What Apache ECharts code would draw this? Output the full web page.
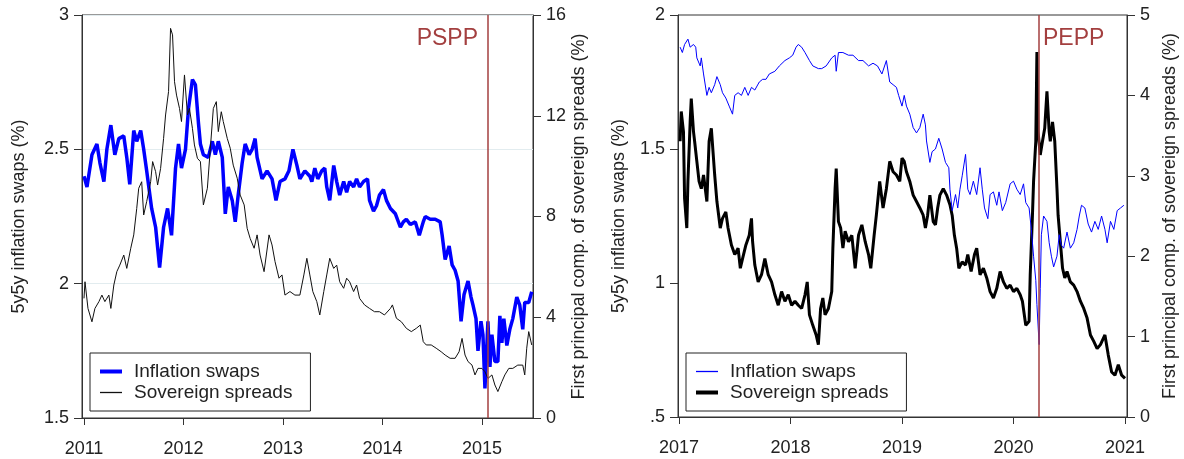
<!DOCTYPE html>
<html>
<head>
<meta charset="utf-8">
<title>Inflation swaps and sovereign spreads</title>
<script src="https://cdn.jsdelivr.net/npm/echarts@6/dist/echarts.min.js"></script>
<style>
  html, body { margin: 0; padding: 0; background: #fff; }
  #chart { width: 1184px; height: 459px; }
</style>
</head>
<body>
<div id="chart"></div>
<script>
// ---- data (decimal years) ----
// left panel: 2011 - mid 2015
var swapDates1 = [2011.00,2011.03,2011.08,2011.13,2011.16,2011.20,2011.23,2011.27,2011.31,2011.35,2011.40,2011.43,2011.46,2011.50,2011.53,2011.57,2011.60,2011.63,2011.68,2011.72,2011.76,2011.80,2011.84,2011.88,2011.92,2011.95,2011.98,2012.02,2012.05,2012.09,2012.12,2012.15,2012.17,2012.20,2012.25,2012.29,2012.32,2012.35,2012.39,2012.42,2012.45,2012.49,2012.52,2012.55,2012.59,2012.62,2012.66,2012.69,2012.72,2012.74,2012.79,2012.84,2012.89,2012.93,2012.97,2013.02,2013.06,2013.10,2013.14,2013.17,2013.22,2013.27,2013.29,2013.32,2013.35,2013.39,2013.42,2013.44,2013.47,2013.51,2013.54,2013.57,2013.61,2013.64,2013.67,2013.71,2013.74,2013.77,2013.81,2013.85,2013.87,2013.91,2013.94,2013.97,2014.01,2014.04,2014.08,2014.13,2014.18,2014.21,2014.24,2014.28,2014.33,2014.37,2014.41,2014.43,2014.48,2014.53,2014.58,2014.60,2014.63,2014.67,2014.70,2014.73,2014.76,2014.79,2014.82,2014.86,2014.89,2014.91,2014.94,2014.96,2014.99,2015.01,2015.03,2015.06,2015.08,2015.10,2015.13,2015.16,2015.18,2015.20,2015.22,2015.25,2015.28,2015.31,2015.35,2015.38,2015.41,2015.43,2015.47,2015.50];
var swapVals1 = [2.40,2.36,2.48,2.52,2.45,2.38,2.50,2.59,2.48,2.54,2.55,2.47,2.37,2.57,2.53,2.57,2.50,2.42,2.28,2.21,2.06,2.21,2.28,2.18,2.43,2.52,2.43,2.50,2.65,2.76,2.74,2.60,2.52,2.48,2.47,2.53,2.48,2.53,2.47,2.26,2.36,2.31,2.23,2.33,2.45,2.52,2.48,2.50,2.54,2.47,2.39,2.42,2.39,2.31,2.38,2.39,2.42,2.50,2.44,2.39,2.42,2.40,2.38,2.43,2.39,2.42,2.43,2.36,2.31,2.44,2.38,2.33,2.38,2.34,2.38,2.36,2.39,2.36,2.38,2.39,2.31,2.27,2.29,2.33,2.35,2.31,2.28,2.26,2.21,2.23,2.24,2.22,2.23,2.18,2.23,2.25,2.24,2.24,2.23,2.18,2.09,2.14,2.07,2.05,2.01,1.86,1.96,2.01,1.95,1.92,1.87,1.75,1.86,1.81,1.61,1.86,1.69,1.81,1.71,1.71,1.88,1.78,1.87,1.77,1.83,1.87,1.95,1.92,1.83,1.93,1.93,1.97];

var sprdDates1 = [2011.00,2011.01,2011.04,2011.08,2011.11,2011.15,2011.18,2011.21,2011.25,2011.27,2011.30,2011.33,2011.36,2011.40,2011.43,2011.47,2011.50,2011.53,2011.55,2011.58,2011.60,2011.63,2011.67,2011.69,2011.72,2011.74,2011.77,2011.80,2011.82,2011.85,2011.87,2011.89,2011.91,2011.93,2011.96,2011.98,2012.01,2012.04,2012.06,2012.09,2012.11,2012.14,2012.17,2012.20,2012.24,2012.27,2012.30,2012.33,2012.35,2012.38,2012.40,2012.44,2012.47,2012.50,2012.54,2012.57,2012.61,2012.64,2012.67,2012.71,2012.74,2012.77,2012.81,2012.86,2012.89,2012.92,2012.96,2012.99,2013.02,2013.07,2013.12,2013.17,2013.21,2013.24,2013.27,2013.30,2013.34,2013.37,2013.41,2013.44,2013.47,2013.51,2013.54,2013.57,2013.61,2013.64,2013.67,2013.71,2013.74,2013.77,2013.82,2013.87,2013.92,2013.97,2014.02,2014.08,2014.10,2014.14,2014.19,2014.24,2014.29,2014.34,2014.38,2014.41,2014.44,2014.49,2014.54,2014.59,2014.63,2014.68,2014.73,2014.77,2014.80,2014.83,2014.86,2014.90,2014.93,2014.96,2015.00,2015.03,2015.06,2015.10,2015.13,2015.16,2015.20,2015.23,2015.27,2015.31,2015.36,2015.41,2015.43,2015.45,2015.47,2015.50];
var sprdVals1 = [4.75,5.41,4.35,3.82,4.35,4.62,4.88,4.62,4.88,4.35,5.28,5.81,6.07,6.47,5.94,6.74,7.27,8.32,9.12,9.38,8.06,8.59,9.38,10.18,9.78,9.25,9.91,11.10,12.03,12.96,15.47,15.21,13.35,12.82,12.29,11.77,13.62,12.03,12.29,11.50,10.84,10.31,10.18,8.46,9.12,10.71,12.29,12.56,11.37,12.16,11.77,11.10,10.71,10.04,9.52,8.85,8.46,7.53,7.13,6.74,7.27,6.47,5.81,7.27,6.87,6.21,5.55,5.68,4.88,5.02,4.88,4.88,5.68,6.34,5.68,5.02,4.62,4.09,5.02,5.68,6.34,5.94,6.07,5.41,5.15,5.55,5.41,5.02,5.28,4.75,4.49,4.35,4.22,4.22,4.09,4.35,4.49,3.96,3.82,3.56,3.43,3.56,3.69,3.03,2.90,2.90,2.77,2.63,2.50,2.37,2.37,2.63,3.16,2.50,2.24,2.10,1.71,1.97,1.97,1.84,1.57,1.71,1.31,1.05,1.44,1.71,1.97,1.97,2.10,2.10,1.71,2.77,3.43,2.90];

// right panel: 2017 - 2021
var swapDates2 = [2017.01,2017.03,2017.05,2017.08,2017.10,2017.13,2017.15,2017.16,2017.19,2017.20,2017.22,2017.25,2017.27,2017.29,2017.32,2017.34,2017.37,2017.39,2017.42,2017.45,2017.48,2017.50,2017.53,2017.56,2017.59,2017.62,2017.65,2017.68,2017.72,2017.75,2017.78,2017.81,2017.86,2017.90,2017.95,2017.99,2018.02,2018.05,2018.07,2018.10,2018.13,2018.17,2018.20,2018.25,2018.28,2018.32,2018.37,2018.40,2018.41,2018.43,2018.47,2018.52,2018.56,2018.61,2018.65,2018.70,2018.74,2018.78,2018.82,2018.86,2018.89,2018.92,2018.95,2018.97,2019.00,2019.02,2019.04,2019.07,2019.10,2019.13,2019.16,2019.19,2019.21,2019.22,2019.25,2019.27,2019.30,2019.33,2019.36,2019.39,2019.42,2019.43,2019.45,2019.48,2019.50,2019.52,2019.54,2019.57,2019.59,2019.61,2019.64,2019.67,2019.70,2019.72,2019.74,2019.77,2019.79,2019.82,2019.85,2019.87,2019.90,2019.93,2019.97,2020.00,2020.03,2020.06,2020.09,2020.11,2020.14,2020.16,2020.18,2020.20,2020.21,2020.23,2020.24,2020.25,2020.27,2020.30,2020.32,2020.34,2020.36,2020.39,2020.41,2020.43,2020.45,2020.48,2020.51,2020.54,2020.57,2020.59,2020.61,2020.64,2020.67,2020.70,2020.73,2020.76,2020.79,2020.82,2020.84,2020.87,2020.90,2020.93,2020.96,2020.99];
var swapVals2 = [1.88,1.86,1.89,1.91,1.88,1.89,1.88,1.84,1.81,1.84,1.78,1.70,1.73,1.71,1.74,1.77,1.74,1.71,1.69,1.66,1.63,1.70,1.71,1.70,1.73,1.70,1.73,1.72,1.75,1.76,1.76,1.78,1.79,1.81,1.83,1.84,1.85,1.88,1.89,1.88,1.86,1.83,1.81,1.80,1.80,1.81,1.84,1.85,1.79,1.86,1.86,1.85,1.85,1.83,1.83,1.81,1.82,1.81,1.78,1.83,1.75,1.74,1.73,1.70,1.66,1.70,1.66,1.63,1.58,1.56,1.58,1.63,1.59,1.53,1.45,1.49,1.50,1.54,1.50,1.45,1.43,1.35,1.27,1.33,1.28,1.35,1.40,1.48,1.35,1.33,1.38,1.33,1.43,1.35,1.28,1.24,1.33,1.34,1.29,1.34,1.27,1.30,1.37,1.38,1.35,1.33,1.37,1.30,1.28,1.20,1.10,1.01,0.92,0.77,0.98,1.18,1.25,1.23,1.15,1.10,1.06,1.10,1.18,1.14,1.13,1.19,1.13,1.15,1.20,1.25,1.29,1.28,1.22,1.19,1.23,1.20,1.25,1.20,1.15,1.23,1.20,1.27,1.28,1.29];

var sprdDates2 = [2017.01,2017.02,2017.04,2017.05,2017.07,2017.08,2017.10,2017.11,2017.13,2017.14,2017.16,2017.18,2017.20,2017.22,2017.25,2017.27,2017.29,2017.30,2017.32,2017.34,2017.37,2017.39,2017.42,2017.44,2017.47,2017.50,2017.53,2017.55,2017.57,2017.60,2017.63,2017.65,2017.66,2017.68,2017.71,2017.74,2017.77,2017.80,2017.83,2017.86,2017.89,2017.92,2017.95,2017.98,2018.01,2018.04,2018.07,2018.10,2018.13,2018.15,2018.17,2018.20,2018.23,2018.25,2018.27,2018.29,2018.31,2018.34,2018.37,2018.38,2018.40,2018.41,2018.43,2018.45,2018.47,2018.49,2018.52,2018.55,2018.58,2018.61,2018.64,2018.67,2018.70,2018.72,2018.75,2018.77,2018.80,2018.83,2018.86,2018.89,2018.92,2018.95,2018.98,2019.00,2019.02,2019.04,2019.07,2019.10,2019.13,2019.16,2019.19,2019.21,2019.23,2019.25,2019.28,2019.30,2019.32,2019.34,2019.37,2019.40,2019.43,2019.45,2019.47,2019.49,2019.51,2019.54,2019.57,2019.59,2019.62,2019.65,2019.67,2019.70,2019.73,2019.76,2019.79,2019.82,2019.85,2019.88,2019.91,2019.94,2019.97,2020.00,2020.03,2020.06,2020.08,2020.11,2020.14,2020.15,2020.17,2020.18,2020.20,2020.21,2020.22,2020.24,2020.26,2020.28,2020.30,2020.32,2020.33,2020.35,2020.37,2020.39,2020.40,2020.42,2020.44,2020.46,2020.48,2020.51,2020.54,2020.57,2020.60,2020.63,2020.66,2020.69,2020.72,2020.75,2020.78,2020.82,2020.85,2020.88,2020.91,2020.94,2020.97,2021.00];
var sprdVals2 = [3.43,3.80,3.55,2.72,2.35,2.93,3.67,3.96,3.55,3.43,3.18,2.93,2.84,3.01,2.68,3.43,3.59,3.59,3.01,2.68,2.35,2.47,2.55,2.35,2.14,2.02,2.10,1.85,1.97,2.14,2.26,2.47,2.18,1.89,1.68,1.77,1.97,1.77,1.68,1.52,1.39,1.56,1.44,1.52,1.39,1.44,1.39,1.35,1.52,1.68,1.27,1.14,1.02,0.90,1.35,1.48,1.27,1.35,1.56,2.10,2.84,3.09,2.43,2.35,2.10,2.31,2.18,2.26,1.85,2.26,2.39,2.18,2.02,1.85,2.26,2.51,2.93,2.60,2.84,3.18,3.05,3.01,2.93,3.22,3.18,3.05,2.93,2.76,2.68,2.60,2.51,2.35,2.51,2.76,2.43,2.39,2.60,2.76,2.84,2.76,2.64,2.51,2.26,2.10,1.85,1.93,1.89,2.02,1.81,2.02,2.10,1.77,1.85,1.73,1.56,1.48,1.60,1.81,1.68,1.60,1.64,1.56,1.60,1.52,1.44,1.14,1.19,1.77,2.51,2.93,3.43,4.54,3.55,3.26,3.43,3.59,4.05,3.55,3.43,3.67,3.43,2.84,2.51,2.18,1.85,1.73,1.81,1.68,1.64,1.56,1.44,1.35,1.23,1.02,0.94,0.85,0.90,1.02,0.77,0.56,0.52,0.65,0.52,0.48];

var yearTicks1 = [2011, 2012, 2013, 2014, 2015];
var yearTicks2 = [2017, 2018, 2019, 2020, 2021];
var programmes = [{ name: "PSPP", date: 2015.06 }, { name: "PEPP", date: 2020.23 }];

function pairs(xs, ys) {
    return xs.map(function (x, i) { return [x, ys[i]]; });
}

var FONT = "Liberation Sans, Arial, sans-serif";
var INK = "#222";
var EVENT = "#a33f3f";
var THIN = "path://M0,0H22V1.3H0Z";
var THICK = "path://M0,0H22V4H0Z";

function xAxisFor(grid, min, max, ticks) {
    return {
        type: "value", gridIndex: grid, min: min, max: max,
        axisLine: { show: true, onZero: false, lineStyle: { color: "#333" } },
        axisTick: { show: true, length: 7, customValues: ticks, lineStyle: { color: "#333" } },
        axisLabel: {
            customValues: ticks, margin: 22, color: INK, fontSize: 18, fontFamily: FONT,
            formatter: function (v) { return String(Math.round(v)); }
        },
        splitLine: { show: false }
    };
}

function yAxisFor(grid, side, min, max, step, name, gap, grids, fmt) {
    return {
        type: "value", gridIndex: grid, position: side, min: min, max: max, interval: step,
        name: name, nameLocation: "middle", nameGap: gap, nameRotate: 90,
        nameTextStyle: { color: INK, fontSize: 18, fontFamily: FONT },
        axisLine: { show: true, lineStyle: { color: "#333" } },
        axisTick: { show: true, length: 8, lineStyle: { color: "#333" } },
        axisLabel: { margin: 13, color: INK, fontSize: 18, fontFamily: FONT, formatter: fmt },
        splitLine: { show: grids, lineStyle: { color: "#e2ecef", width: 1 } }
    };
}

function eventLine(p) {
    return {
        symbol: ["none", "none"], silent: true, animation: false,
        label: { show: false },
        lineStyle: { color: EVENT, width: 1.5, type: "solid" },
        emphasis: { disabled: true },
        data: [{ xAxis: p.date }]
    };
}

function legendFor(left, top, items) {
    return {
        left: left, top: top, orient: "vertical", selectedMode: false,
        data: items,
        formatter: function (n) { return n.split("|")[1]; },
        itemWidth: 22, itemHeight: 14, itemGap: 2,
        itemStyle: { borderWidth: 0 },
        padding: [9, 18, 9, 10],
        borderColor: "#222", borderWidth: 1, backgroundColor: "#fff",
        textStyle: { color: INK, fontSize: 19, fontFamily: FONT, padding: [0, 0, 0, 7] }
    };
}

var chart = echarts.init(document.getElementById("chart"));

var option = {
    animation: false,
    backgroundColor: "#fff",
    grid: [
        { left: 82, right: 651, top: 15, bottom: 41, show: true, borderColor: "#333", borderWidth: 1 },
        { left: 678, right: 57, top: 15, bottom: 42, show: true, borderColor: "#333", borderWidth: 1 }
    ],
    xAxis: [
        xAxisFor(0, 2010.98, 2015.513, yearTicks1),
        xAxisFor(1, 2016.991, 2021.018, yearTicks2)
    ],
    yAxis: [
        yAxisFor(0, "left", 1.5, 3, 0.5, "5y5y inflation swaps (%)", 54, true),
        yAxisFor(0, "right", 0, 16, 4, "First principal comp. of sovereign spreads (%)", 30, false),
        yAxisFor(1, "left", 0.5, 2, 0.5, "5y5y inflation swaps (%)", 50, false,
            function (v) { return v === 0.5 ? ".5" : String(v); }),
        yAxisFor(1, "right", 0, 5, 1, "First principal comp. of sovereign spreads (%)", 34, false)
    ],
    legend: [
        legendFor(90, 353, [
            { name: "L|Inflation swaps", icon: THICK },
            { name: "L|Sovereign spreads", icon: THIN }
        ]),
        legendFor(686, 353, [
            { name: "R|Inflation swaps", icon: THIN },
            { name: "R|Sovereign spreads", icon: THICK }
        ])
    ],
    graphic: [
        { type: "text", x: 478, y: 39, style: { text: programmes[0].name, fill: EVENT, fontSize: 23, fontFamily: FONT, align: "right", verticalAlign: "middle" } },
        { type: "text", x: 1043, y: 39, style: { text: programmes[1].name, fill: EVENT, fontSize: 23, fontFamily: FONT, align: "left", verticalAlign: "middle" } }
    ],
    series: [
        {
            name: "L|Inflation swaps", type: "line", xAxisIndex: 0, yAxisIndex: 0,
            data: pairs(swapDates1, swapVals1), symbol: "none", color: "#0000ff",
            lineStyle: { width: 3.5, color: "#0000ff" }
        },
        {
            name: "L|Sovereign spreads", type: "line", xAxisIndex: 0, yAxisIndex: 1,
            data: pairs(sprdDates1, sprdVals1), symbol: "none", color: "#111",
            lineStyle: { width: 1, color: "#111" },
            markLine: eventLine(programmes[0])
        },
        {
            name: "R|Sovereign spreads", type: "line", xAxisIndex: 1, yAxisIndex: 3,
            data: pairs(sprdDates2, sprdVals2), symbol: "none", color: "#000",
            lineStyle: { width: 3, color: "#000" }
        },
        {
            name: "R|Inflation swaps", type: "line", xAxisIndex: 1, yAxisIndex: 2,
            data: pairs(swapDates2, swapVals2), symbol: "none", color: "#0000ff",
            lineStyle: { width: 1, color: "#0000ff" },
            markLine: eventLine(programmes[1])
        }
    ]
};

chart.setOption(option);
window.addEventListener("resize", function () { chart.resize(); });
</script>
</body>
</html>
